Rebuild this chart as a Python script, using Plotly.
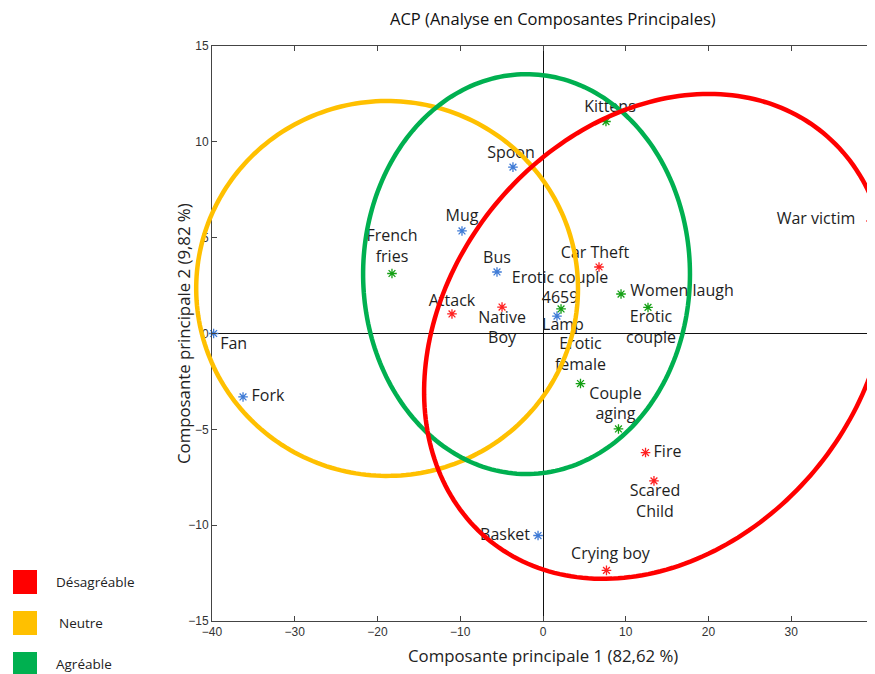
import numpy as np
import plotly.graph_objects as go

# ---------------- data ----------------
categories = ["Désagréable", "Neutre", "Agréable"]

neutre_labels = ["Fan", "Fork", "Mug", "Spoon", "Bus", "Lamp", "Basket"]
neutre_pc1 = [-39.8, -36.25, -9.79, -3.63, -5.56, 1.69, -0.6]
neutre_pc2 = [0.0, -3.31, 5.35, 8.68, 3.21, 0.91, -10.54]

agreable_labels = ["Kittens", "French<br>fries", "Erotic couple<br>4659", "Women laugh",
                   "Erotic<br>couple", "Erotic<br>female", "Couple<br>aging"]
agreable_pc1 = [7.61, -18.25, 2.18, 9.43, 12.69, 4.53, 9.12]
agreable_pc2 = [11.06, 3.13, 1.28, 2.06, 1.36, -2.61, -4.98]

desagreable_labels = ["War victim", "Car Theft", "Attack", "Native<br>Boy", "Fire",
                      "Scared<br>Child", "Crying boy"]
desagreable_pc1 = [39.64, 6.77, -11.0, -4.95, 12.39, 13.41, 7.67]
desagreable_pc2 = [5.87, 3.47, 1.02, 1.38, -6.21, -7.69, -12.36]

x_ticks = [-40, -30, -20, -10, 0, 10, 20, 30, 40]
y_ticks = [-15, -10, -5, 0, 5, 10, 15]

# confidence ellipses: centre, covariance (data units)
ell_desagreable = dict(cx=13.65, cy=-0.15, sxx=785.0, syy=160.0, sxy=81.0)
ell_neutre = dict(cx=-18.84, cy=2.35, sxx=23.07 ** 2, syy=9.78 ** 2, sxy=0.0)
ell_agreable = dict(cx=-1.99, cy=3.1, sxx=19.75 ** 2, syy=10.43 ** 2, sxy=0.0)

# ---------------- style ----------------
OFF = 8  # page body margin in the browser
SCR_W, SCR_H = 875, 674
W, H = SCR_W - OFF, SCR_H - OFF
# plot area in screenshot pixels
PL, PT, PR, PB = 212, 46, 874, 621
ML, MT = PL - OFF, PT - OFF
MR = W - (PR - OFF)
MB = H - (PB - OFF)
X_RANGE = [-40, 40]
Y_RANGE = [-15, 15]
PW, PH = PR - PL, PB - PT
PX_X = PW / (X_RANGE[1] - X_RANGE[0])
PX_Y = PH / (Y_RANGE[1] - Y_RANGE[0])

col_red, col_yel, col_grn = "#FF0000", "#FFC000", "#00B050"
mk_blue, mk_red, mk_grn = "#3f7bd6", "#ff2020", "#14a014"
FONT = "'Open Sans', Lato, sans-serif"
label_font = dict(family=FONT, size=16, color="#1e1e1e")

# label pixel offsets (dx right, dy down) from point to label centre
neutre_off = [(20, 11), (25, 0), (0, -14), (-2, -13), (0, -13), (6, 10), (-33, 0)]
agreable_off = [(4, -14), (0, -26), (-1, -20), (61, -2), (3, 21), (0, -28), (-3, -24)]
desagreable_off = [(-55, -1), (-4, -13), (0, -12), (0, 22), (22, 0), (1, 22), (4, -15)]

fig = go.Figure()


def add_group(xs, ys, labels, offs, mcolor, name):
    fig.add_trace(go.Scatter(
        x=xs, y=ys, mode="markers", name=name, showlegend=False,
        marker=dict(symbol="asterisk-open", size=8, color=mcolor,
                    line=dict(color=mcolor, width=1.3)),
        cliponaxis=False,
    ))
    lx = [x + dx / PX_X for x, (dx, dy) in zip(xs, offs)]
    ly = [y - dy / PX_Y for y, (dx, dy) in zip(ys, offs)]
    fig.add_trace(go.Scatter(
        x=lx, y=ly, mode="text", text=labels, textposition="middle center",
        textfont=label_font, showlegend=False, hoverinfo="skip", cliponaxis=False,
    ))


add_group(neutre_pc1, neutre_pc2, neutre_labels, neutre_off, mk_blue, categories[1])
add_group(agreable_pc1, agreable_pc2, agreable_labels, agreable_off, mk_grn, categories[2])
add_group(desagreable_pc1, desagreable_pc2, desagreable_labels, desagreable_off, mk_red, categories[0])


def to_paper(x, y):
    return ((x - X_RANGE[0]) / (X_RANGE[1] - X_RANGE[0]),
            (y - Y_RANGE[0]) / (Y_RANGE[1] - Y_RANGE[0]))


def ellipse_path(e, n=240):
    l11 = np.sqrt(e["sxx"])
    l21 = e["sxy"] / l11
    l22 = np.sqrt(e["syy"] - l21 ** 2)
    t = np.linspace(0, 2 * np.pi, n)
    x = e["cx"] + l11 * np.cos(t)
    y = e["cy"] + l21 * np.cos(t) + l22 * np.sin(t)
    xp, yp = to_paper(x, y)
    pts = [f"{a:.5f},{b:.5f}" for a, b in zip(xp, yp)]
    return "M " + " L ".join(pts) + " Z"


shapes = []
for e, c in [(ell_neutre, col_yel), (ell_agreable, col_grn), (ell_desagreable, col_red)]:
    shapes.append(dict(type="path", xref="paper", yref="paper", path=ellipse_path(e),
                       line=dict(color=c, width=4.5), layer="above"))


def px2paper(px, py):
    # screenshot pixels -> paper coords
    return (px - PL) / PW, (PB - py) / PH


annotations = []
# legend (squares + text)
for i, (lab, c) in enumerate(zip(categories, [col_red, col_yel, col_grn])):
    top = 570 + i * 41
    x0, y1 = px2paper(13, top)
    x1, y0 = px2paper(37, top + 24)
    shapes.append(dict(type="rect", xref="paper", yref="paper", x0=x0, x1=x1, y0=y0, y1=y1,
                       fillcolor=c, line=dict(color=c, width=0)))
    tx, ty = px2paper(54 + (3 if i == 1 else 0), top + 12)
    annotations.append(dict(xref="paper", yref="paper", x=tx, y=ty, text=lab, showarrow=False,
                            xanchor="left", yanchor="middle",
                            font=dict(family=FONT, size=13.5, color="#222")))

# axis titles
ax_, ay_ = px2paper(543, 655)
annotations.append(dict(xref="paper", yref="paper", x=ax_, y=ay_,
                        text="Composante principale 1 (82,62 %)", showarrow=False,
                        xanchor="center", yanchor="middle",
                        font=dict(family=FONT, size=16.8, color="#222")))
bx_, by_ = px2paper(183, 334)
annotations.append(dict(xref="paper", yref="paper", x=bx_, y=by_,
                        text="Composante principale 2 (9,82 %)", showarrow=False, textangle=-90,
                        xanchor="center", yanchor="middle",
                        font=dict(family=FONT, size=16.8, color="#222")))

# title
tx_, ty_ = px2paper(553, 18)
annotations.append(dict(xref="paper", yref="paper", x=tx_, y=ty_,
                        text="ACP (Analyse en Composantes Principales)", showarrow=False,
                        xanchor="center", yanchor="middle",
                        font=dict(family=FONT, size=16.5, color="#111")))

axis_common = dict(showgrid=False, zeroline=True, zerolinecolor="#111", zerolinewidth=1,
                   showline=True, linecolor="#444", linewidth=1, mirror="ticks",
                   ticks="inside", ticklen=5, tickcolor="#444",
                   tickfont=dict(family="Liberation Sans, Arial, sans-serif", size=12, color="#333"))

fig.update_layout(
    width=W, height=H,
    margin=dict(l=ML, r=MR, t=MT, b=MB),
    paper_bgcolor="white", plot_bgcolor="white",
    xaxis=dict(range=X_RANGE, tickvals=x_ticks, **axis_common),
    yaxis=dict(range=Y_RANGE, tickvals=y_ticks, **axis_common),
    shapes=shapes, annotations=annotations, showlegend=False,
)

fig.write_html("out.html")
